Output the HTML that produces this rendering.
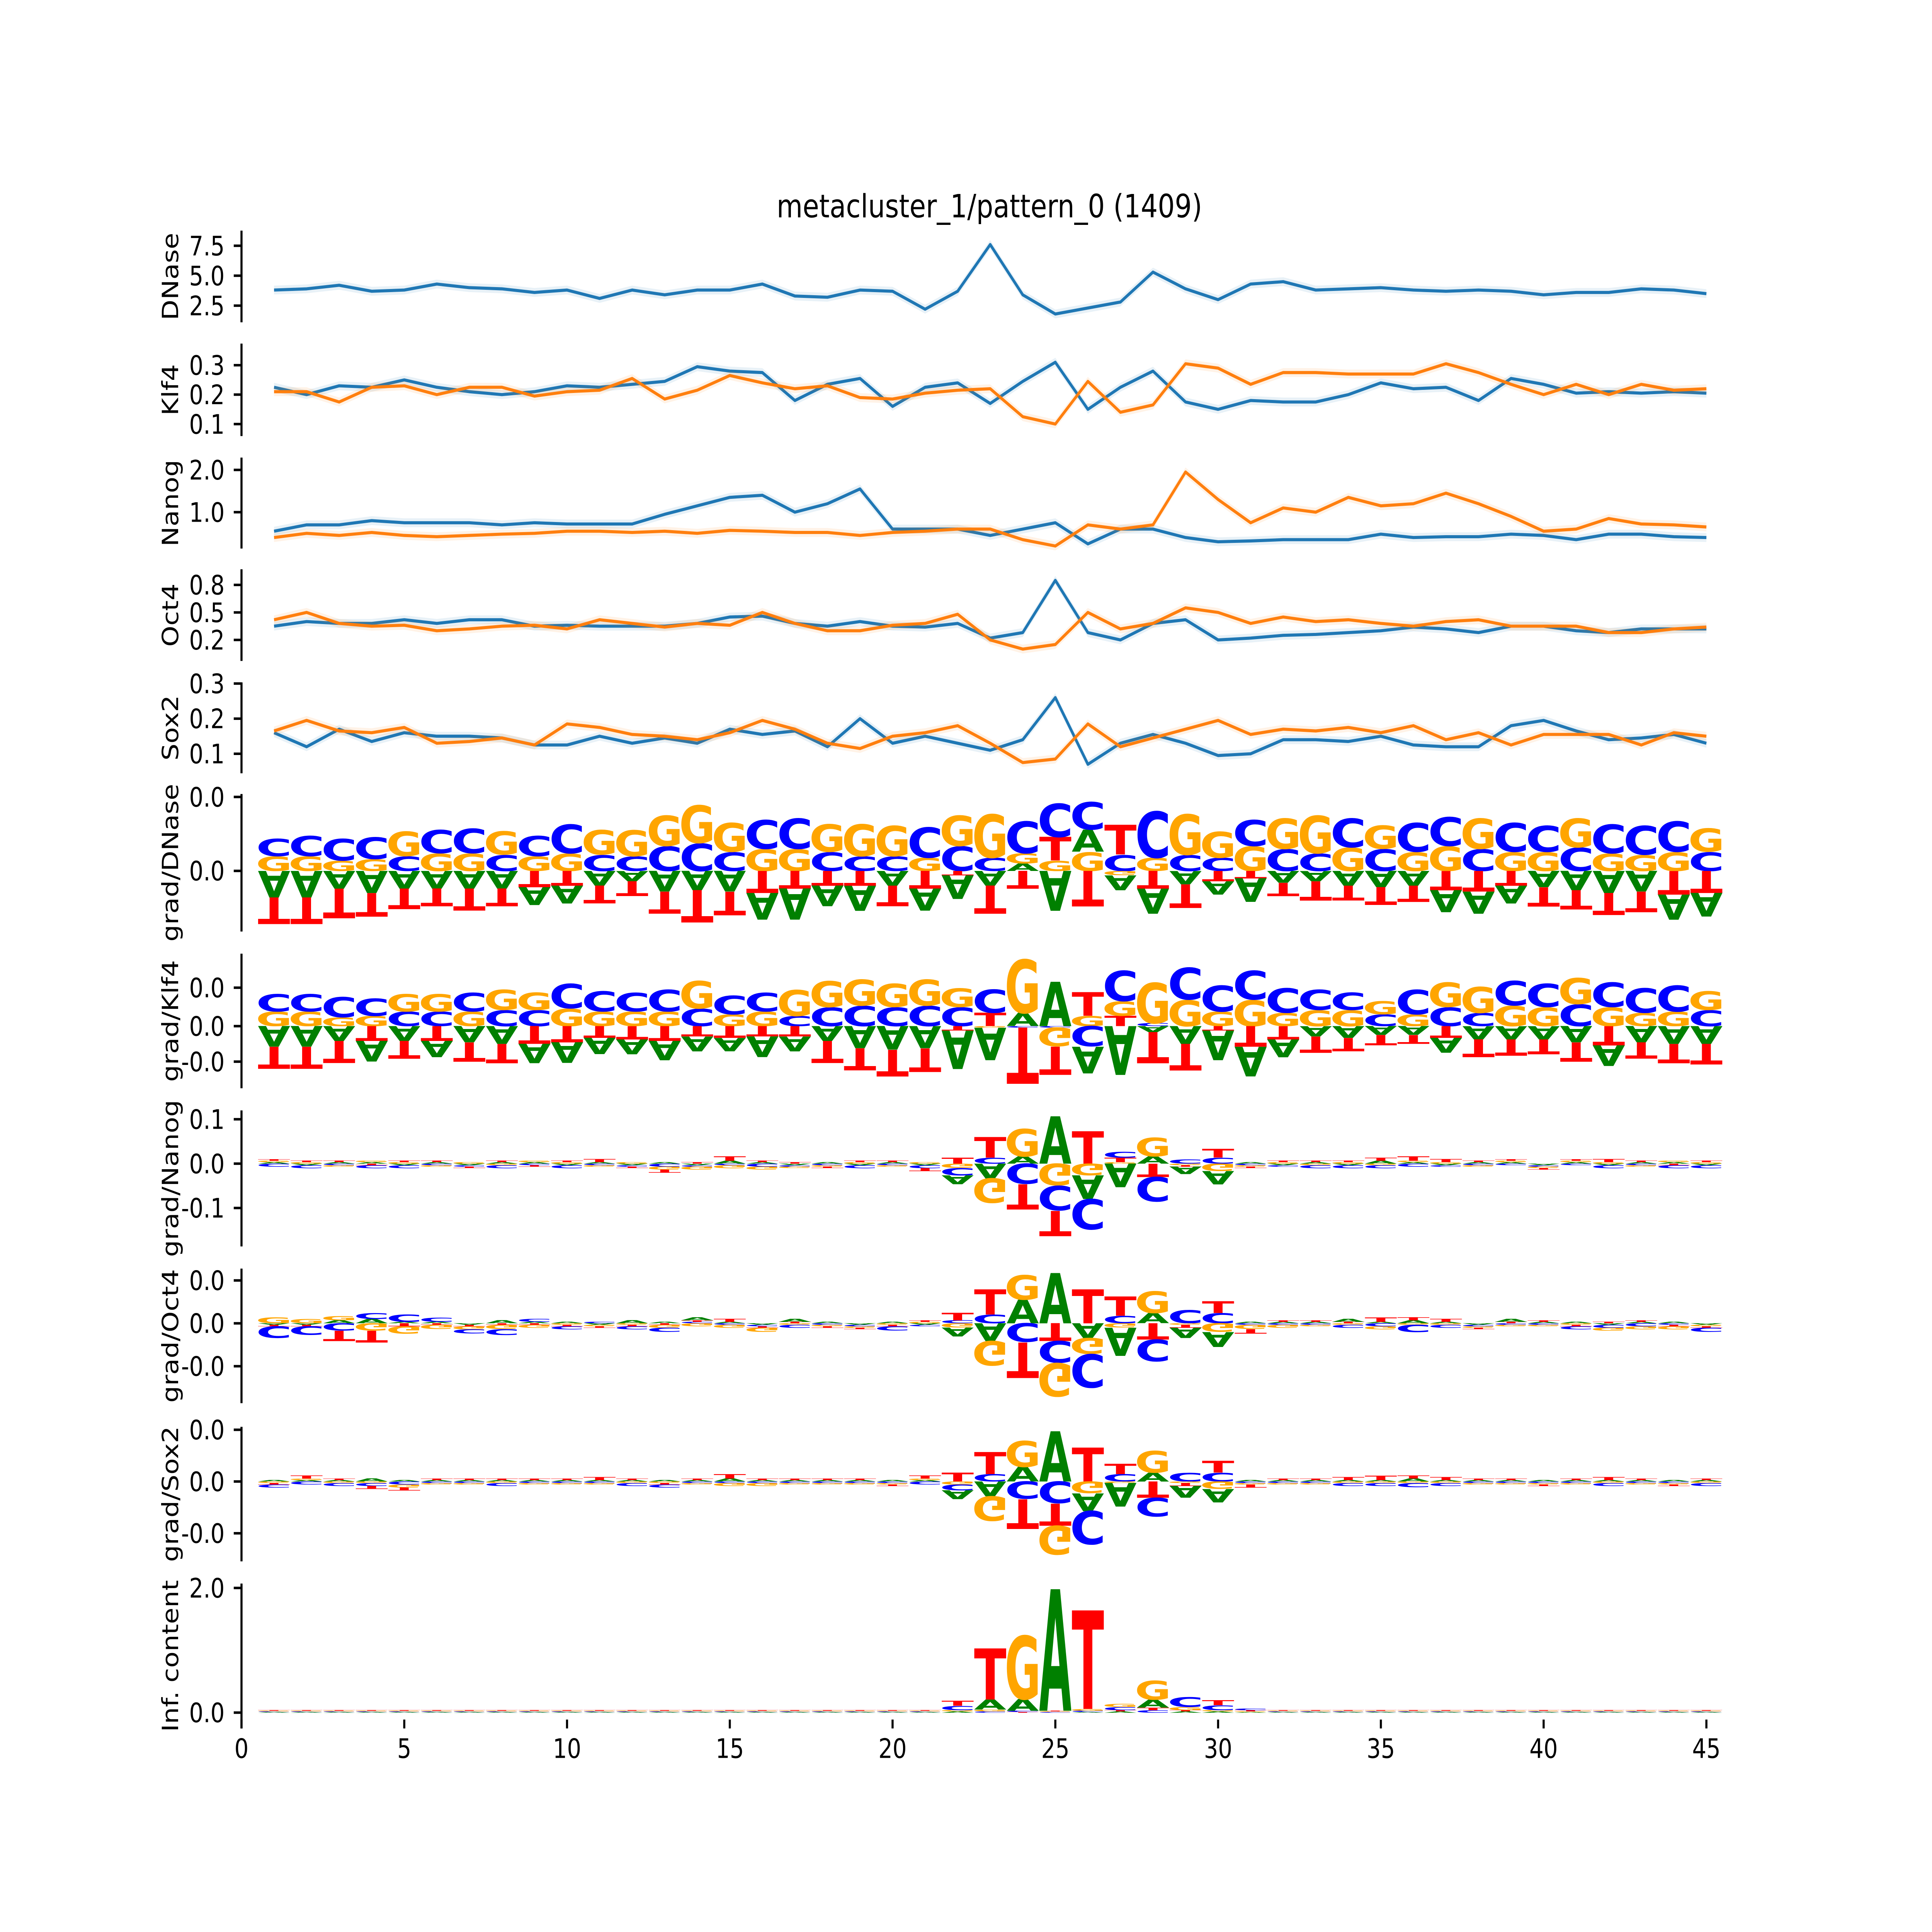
<!DOCTYPE html>
<html>
<head>
<meta charset="utf-8">
<style>
html,body{margin:0;padding:0;background:#fff;width:100%;height:100%;overflow:hidden;}
svg{display:block;width:100vw;height:100vh;}
text{font-family:"DejaVu Sans","Liberation Sans",sans-serif;}
</style>
</head>
<body>
<svg xmlns="http://www.w3.org/2000/svg" viewBox="0 0 1568 1306.67" preserveAspectRatio="none">
<rect x="0" y="0" width="1568" height="1306.67" fill="#fff"/>
<g id="chart">
<text x="803" y="147" font-size="21.7" text-anchor="middle" fill="#000">metacluster_1/pattern_0 (1409)</text>
</g>
</svg>
<script>
// ---------- line track data (positions 1..45) ----------
const dnaseBlue=[3.8,3.9,4.2,3.7,3.8,4.3,4.0,3.9,3.6,3.8,3.1,3.8,3.4,3.8,3.8,4.3,3.3,3.2,3.8,3.7,2.2,3.7,7.6,3.4,1.8,2.3,2.8,5.3,3.9,3.0,4.3,4.5,3.8,3.9,4.0,3.8,3.7,3.8,3.7,3.4,3.6,3.6,3.9,3.8,3.5];
const klf4Blue=[0.225,0.2,0.23,0.225,0.25,0.225,0.21,0.2,0.21,0.23,0.225,0.235,0.245,0.295,0.28,0.275,0.18,0.235,0.255,0.16,0.225,0.24,0.17,0.245,0.31,0.15,0.225,0.28,0.175,0.15,0.18,0.175,0.175,0.2,0.24,0.22,0.225,0.18,0.255,0.235,0.205,0.21,0.205,0.21,0.205];
const klf4Orange=[0.21,0.21,0.175,0.225,0.23,0.2,0.225,0.225,0.195,0.21,0.215,0.255,0.185,0.215,0.265,0.24,0.22,0.23,0.19,0.185,0.205,0.215,0.22,0.125,0.1,0.245,0.14,0.165,0.305,0.29,0.235,0.275,0.275,0.27,0.27,0.27,0.305,0.275,0.235,0.2,0.235,0.2,0.235,0.215,0.22];
const nanogBlue=[0.55,0.7,0.7,0.8,0.75,0.75,0.75,0.7,0.75,0.72,0.72,0.72,0.95,1.15,1.35,1.4,1.0,1.2,1.55,0.6,0.6,0.6,0.45,0.6,0.75,0.25,0.6,0.6,0.4,0.3,0.32,0.35,0.35,0.35,0.48,0.4,0.42,0.42,0.48,0.45,0.35,0.48,0.48,0.42,0.4];
const nanogOrange=[0.4,0.5,0.45,0.52,0.45,0.42,0.45,0.48,0.5,0.55,0.55,0.52,0.55,0.5,0.57,0.55,0.52,0.52,0.45,0.52,0.55,0.6,0.6,0.35,0.2,0.7,0.6,0.7,1.95,1.3,0.75,1.1,1.0,1.35,1.15,1.2,1.45,1.2,0.9,0.55,0.6,0.85,0.72,0.7,0.65];
const oct4Blue=[0.35,0.4,0.38,0.38,0.42,0.38,0.42,0.42,0.35,0.36,0.35,0.35,0.35,0.38,0.45,0.46,0.38,0.35,0.4,0.35,0.34,0.38,0.22,0.28,0.85,0.28,0.2,0.38,0.42,0.2,0.22,0.25,0.26,0.28,0.3,0.34,0.32,0.28,0.35,0.35,0.3,0.28,0.32,0.32,0.32];
const oct4Orange=[0.42,0.5,0.38,0.35,0.36,0.3,0.32,0.35,0.36,0.32,0.42,0.38,0.34,0.38,0.36,0.5,0.38,0.3,0.3,0.36,0.38,0.48,0.2,0.1,0.15,0.5,0.32,0.38,0.55,0.5,0.38,0.45,0.4,0.42,0.38,0.35,0.4,0.42,0.35,0.35,0.35,0.28,0.28,0.32,0.34];
const sox2Blue=[0.16,0.12,0.17,0.135,0.16,0.15,0.15,0.145,0.125,0.125,0.15,0.13,0.145,0.13,0.17,0.155,0.165,0.12,0.2,0.13,0.15,0.13,0.11,0.14,0.26,0.07,0.13,0.155,0.13,0.095,0.1,0.14,0.14,0.135,0.15,0.125,0.12,0.12,0.18,0.195,0.165,0.14,0.145,0.155,0.13];
const sox2Orange=[0.165,0.195,0.165,0.16,0.175,0.13,0.135,0.145,0.125,0.185,0.175,0.155,0.15,0.14,0.16,0.195,0.17,0.13,0.115,0.15,0.16,0.18,0.13,0.075,0.085,0.185,0.12,0.145,0.17,0.195,0.155,0.17,0.165,0.175,0.16,0.18,0.14,0.16,0.125,0.155,0.155,0.155,0.125,0.16,0.15];

// ---------- logo data (signed heights per letter, positions 1..45) ----------
const gDnaseA=[-18,-18,-12,-15,-12,-12,-12,-12,-12,-12,-10,-7,-14,-13,-14,-18,-21,-14,-17,-10,-15,-16,-10,5,-27,15,-10,-17,-9,-9,-16,-8,-7,-10,-11,-10,-15,-15,-12,-11,-13,-15,-14,-17,-16];
const gDnaseC=[12,14,15,15,10,16,17,11,14,20,11,10,17,19,13,20,21,13,10,10,21,17,9,22,23,19,11,32,11,9,18,15,12,20,15,20,20,15,20,18,16,20,20,21,13];
const gDnaseG=[10,10,7,8,17,12,12,16,10,12,17,18,21,26,20,15,15,19,22,21,9,21,30,7,7,13,-3,9,28,18,17,21,26,16,16,13,17,21,13,13,20,12,11,13,16];
const gDnaseT=[-18,-18,-20,-16,-14,-12,-15,-12,-11,-10,-12,-10,-15,-22,-16,-15,-12,-10,-10,-14,-12,-3,-19,-12,16,-24,20,-12,-16,-7,-5,-9,-13,-10,-12,-11,-13,-14,-10,-13,-13,-15,-14,-16,-15];

const gKlf4A=[-14,-14,-10,-14,-10,-11,-11,-12,-13,-14,-11,-10,-13,-10,-9,-14,-10,-10,-15,-16,-15,-26,-22,9,30,-18,-33,-4,-12,-20,-20,-12,-7,-8,-6,-6,-10,-9,-9,-9,-11,-14,-11,-12,-12];
const gKlf4C=[12,12,14,12,10,10,13,11,11,17,14,13,15,12,13,13,7,13,14,13,14,13,16,-1,-1,-14,21,2,22,18,20,17,14,12,8,17,13,9,17,16,15,17,17,18,11];
const gKlf4G=[10,10,6,7,12,12,10,14,12,12,10,10,10,19,8,10,18,18,18,16,18,13,-1,37,-13,7,10,28,18,10,18,9,11,11,9,8,17,18,14,13,18,13,9,10,13];
const gKlf4T=[-15,-15,-15,-10,-12,-10,-13,-13,-12,-11,-8,-9,-10,-7,-8,-7,-7,-15,-15,-18,-16,-3,9,-38,-19,16,7,-21,-18,-3,-14,-9,-11,-9,-7,-6,-8,-12,-11,-10,-13,-13,-11,-13,-14];

const gNanogA=[1,-1,1,1,-1,1,-1,1,1,-1,1,-1,1,-1,2,1,-1,1,-1,1,-1,-6,-10,5,32,-16,-16,5,-5,-9,1,-1,1,-1,2,1,-1,1,1,-1,1,-1,1,1,-1];
const gNanogC=[-2,-2,-1,-2,-2,-1,-1,-2,-1,-2,-1,-1,-2,-1,-1,-2,-1,-1,-2,-1,-2,-5,4,-14,-17,-21,4,-17,3,4,-1,-1,-2,-2,-2,-2,-1,-1,-1,-1,-1,-2,-1,-2,-2];
const gNanogG=[1,1,-1,1,1,-1,1,-1,1,1,-1,1,-2,-2,-2,-2,-1,-1,1,-1,1,-3,-17,19,-15,-8,1,13,-1,-5,-1,1,-1,1,-1,1,1,-1,1,-1,1,1,-1,1,1];
const gNanogT=[1,1,1,-1,1,1,-1,1,-1,1,2,-1,-2,1,3,1,1,-1,1,1,-2,4,14,-17,-17,22,3,-9,-1,6,-1,1,1,1,2,3,2,1,1,-1,1,2,1,-1,1];

const gOct4A=[-1,-1,2,3,1,1,-1,2,1,1,-1,2,1,2,1,-1,2,1,-1,1,-1,-6,-12,16,34,-10,-19,7,-7,-10,1,1,1,2,1,2,1,-1,2,1,1,-1,1,1,-1];
const gOct4C=[-8,-6,-5,4,5,3,-3,-4,2,-2,1,-2,-3,1,-1,-1,-2,-1,-1,-3,-1,2,6,-13,-15,-23,5,-15,9,7,-1,-1,-1,-2,-2,-5,-2,-1,-1,-1,-2,-2,-2,-1,-3];
const gOct4G=[4,3,3,-5,-5,-3,-2,-3,-2,-1,-1,-1,-2,-2,-2,-3,-1,-1,-1,-1,1,-3,-17,17,-23,-11,-3,15,-1,-6,-3,-2,-1,-1,-2,-1,-1,-1,-1,-1,-1,-2,-2,-2,-1];
const gOct4T=[-1,-1,-7,-8,-2,-1,-1,-1,-1,-1,-1,-1,-1,1,2,-1,1,-1,-1,-1,1,5,17,-24,-12,23,13,-11,-2,8,-3,1,1,1,3,2,2,-1,1,1,-1,1,1,-1,-1];

const gSox2A=[1,1,1,2,1,1,1,1,1,1,1,1,1,1,2,1,1,1,1,1,1,-6,-10,10,34,-12,-16,6,-8,-9,1,1,1,1,1,2,1,1,1,1,1,1,1,1,1];
const gSox2C=[-2,-2,-2,-2,-2,-1,-1,-2,-1,-1,-1,-2,-2,-1,-1,-1,-1,-1,-1,-1,-2,-4,5,-12,-15,-23,5,-13,6,6,-1,-1,-1,-2,-2,-3,-2,-1,-1,-1,-1,-2,-1,-1,-2];
const gSox2G=[-1,1,-1,-1,-2,-1,-1,-1,-1,-1,-1,-1,-1,-1,-2,-2,-1,-1,-1,-1,1,-2,-17,18,-20,-8,-1,15,-1,-5,-1,-1,-1,-1,-1,-1,-1,-1,-1,-1,-1,-1,-1,-1,-1];
const gSox2T=[-1,2,1,-2,-2,1,1,1,1,1,2,1,-1,1,3,1,1,1,1,-1,2,6,15,-20,-15,23,7,-11,-2,8,-2,1,1,2,3,2,2,1,1,-1,1,2,1,-1,1];

const icA=[0.01,0.01,0.01,0.01,0.01,0.01,0.01,0.01,0.01,0.01,0.01,0.01,0.01,0.01,0.01,0.01,0.01,0.01,0.01,0.01,0.01,0.02,0.16,0.19,1.95,0.01,0.02,0.13,0.02,0.02,0.01,0.01,0.01,0.01,0.01,0.01,0.01,0.01,0.01,0.01,0.01,0.01,0.01,0.01,0.01];
const icC=[0.01,0.01,0.01,0.01,0.01,0.01,0.01,0.01,0.01,0.01,0.01,0.01,0.01,0.01,0.01,0.01,0.01,0.01,0.01,0.01,0.01,0.07,0.02,0.02,0.01,0.02,0.05,0.04,0.16,0.08,0.03,0.01,0.01,0.01,0.01,0.01,0.01,0.01,0.01,0.01,0.01,0.01,0.01,0.01,0.01];
const icG=[0.01,0.01,0.01,0.01,0.01,0.01,0.01,0.01,0.01,0.01,0.01,0.01,0.01,0.01,0.01,0.01,0.01,0.01,0.01,0.01,0.01,0.02,0.03,1.04,0.01,0.03,0.05,0.31,0.05,0.02,0.01,0.01,0.01,0.01,0.01,0.01,0.01,0.01,0.01,0.01,0.01,0.01,0.01,0.01,0.01];
const icT=[0.01,0.01,0.01,0.01,0.01,0.01,0.01,0.01,0.01,0.01,0.01,0.01,0.01,0.01,0.01,0.01,0.01,0.01,0.01,0.01,0.01,0.08,0.82,0.01,0.01,1.58,0.02,0.04,0.02,0.08,0.02,0.01,0.01,0.01,0.01,0.01,0.01,0.01,0.01,0.01,0.01,0.01,0.01,0.01,0.01];

// ---------- tick data ----------
const xTickValues=[0,5,10,15,20,25,30,35,40,45];
const dnaseTicks=[2.5,5.0,7.5], dnaseTickLabels=["2.5","5.0","7.5"];
const klf4Ticks=[0.1,0.2,0.3], klf4TickLabels=["0.1","0.2","0.3"];
const nanogTicks=[1.0,2.0], nanogTickLabels=["1.0","2.0"];
const oct4Ticks=[0.2,0.5,0.8], oct4TickLabels=["0.2","0.5","0.8"];
const sox2Ticks=[0.1,0.2,0.3], sox2TickLabels=["0.1","0.2","0.3"];
const gDnaseTicks=[0,50], gDnaseTickLabels=["0.0","0.0"];
const gKlf4Ticks=[26,0,-24], gKlf4TickLabels=["0.0","0.0","-0.0"];
const gNanogTicks=[30,0,-30], gNanogTickLabels=["0.1","0.0","-0.1"];
const gOct4Ticks=[29,0,-29], gOct4TickLabels=["0.0","0.0","-0.0"];
const gSox2Ticks=[35,0,-35], gSox2TickLabels=["0.0","0.0","-0.0"];
const icTicks=[0,2], icTickLabels=["0.0","2.0"];

const NS='http://www.w3.org/2000/svg';
const svg=document.getElementById('chart');
const X0=196, XU=26.42;
function xs(p){return X0+p*XU;}
function lin(v0,y0,v1,y1){return function(v){return y0+(v-v0)*(y1-y0)/(v1-v0);};}
function px(zero){return function(v){return zero-v;};}
function el(tag,parent){const e=document.createElementNS(NS,tag);parent.appendChild(e);return e;}

const COLORS={A:'#008000',C:'#0000ff',G:'#ffa500',T:'#ff0000'};
const INK={A:77,C:66,G:73,T:68};
const CAP={A:72.9,C:75,G:75,T:72.9};

function drawAxis(g,top,bot,yfn,ticks,labels,title,key){
  const sp=el('line',g);
  
  
  sp.setAttribute('x1',X0);sp.setAttribute('x2',X0);sp.setAttribute('y1',top);sp.setAttribute('y2',bot);
  sp.setAttribute('stroke','#000');sp.setAttribute('stroke-width','1.7');
  ticks.forEach(function(t,i){
    const y=yfn(t);
    const tk=el('line',g);
    
    
    tk.setAttribute('x1',X0-6.3);tk.setAttribute('x2',X0);tk.setAttribute('y1',y);tk.setAttribute('y2',y);
    tk.setAttribute('stroke','#000');tk.setAttribute('stroke-width','1.7');
    const tl=el('text',g);
    
    
    tl.setAttribute('x',182.3);tl.setAttribute('y',y+6.5);
    tl.setAttribute('font-size','18.1');tl.setAttribute('text-anchor','end');
    tl.textContent=labels[i];
  });
  const yl=el('text',g);
  
  
  const cy=(top+bot)/2;
  yl.setAttribute('transform','translate(144.5,'+cy+') rotate(-90)');
  yl.setAttribute('font-size','18.1');yl.setAttribute('text-anchor','middle');
  yl.textContent=title;
}

function drawLine(g,vals,yfn,color,key){
  const band=el('polygon',g);
  
  
  let up=[],dn=[];
  vals.forEach(function(v,i){up.push(xs(i+1)+','+(yfn(v)-3));dn.unshift(xs(i+1)+','+(yfn(v)+3));});
  band.setAttribute('points',up.concat(dn).join(' '));
  band.setAttribute('fill',color);band.setAttribute('fill-opacity','0.1');
  const ln=el('polyline',g);
  
  
  ln.setAttribute('points',vals.map(function(v,i){return xs(i+1)+','+yfn(v);}).join(' '));
  ln.setAttribute('fill','none');ln.setAttribute('stroke',color);ln.setAttribute('stroke-width','2.1');
  ln.setAttribute('stroke-linejoin','round');
}

function drawLetter(g,L,xc,yStart,h,neg,key){
  if(h<=0.05) return;
  const W=XU*0.99;
  const sx=W/INK[L], sy=h/CAP[L];
  const t=el('text',g);
  
  
  t.setAttribute('x',0);t.setAttribute('y',0);
  t.setAttribute('font-size','100');t.setAttribute('font-weight','bold');
  t.setAttribute('text-anchor','middle');t.setAttribute('fill',COLORS[L]);
  if(neg){
    t.setAttribute('transform','translate('+xc+','+yStart+') scale('+sx+','+(-sy)+')');
  }else{
    t.setAttribute('transform','translate('+xc+','+yStart+') scale('+sx+','+sy+')');
  }
  t.textContent=L;
}

function drawLogo(g,yfn,A,C,G,T,key){
  for(let i=0;i<A.length;i++){
    const items=[['A',A[i]],['C',C[i]],['G',G[i]],['T',T[i]]];
    const pos=items.filter(function(d){return d[1]>0;}).sort(function(a,b){return a[1]-b[1];});
    const neg=items.filter(function(d){return d[1]<0;}).sort(function(a,b){return b[1]-a[1];});
    const xc=xs(i+1);
    let cum=0;
    pos.forEach(function(d){
      const yb=yfn(cum), yt=yfn(cum+d[1]);
      drawLetter(g,d[0],xc,yb,yb-yt,false,key);
      cum+=d[1];
    });
    cum=0;
    neg.forEach(function(d){
      const ytop=yfn(cum), ybot=yfn(cum+d[1]);
      drawLetter(g,d[0],xc,ytop,ybot-ytop,true,key);
      cum+=d[1];
    });
  }
}

function panel(key){
  const g=el('g',svg);
  
  
  return g;
}

let g;
const yDnase=lin(2.5,206.7,7.5,166.2);
g=panel('dnase');
drawAxis(g,156,218,yDnase,dnaseTicks,dnaseTickLabels,'DNase','dnase');
drawLine(g,dnaseBlue,yDnase,'#1f77b4','dnase-blue');

const yKlf4=lin(0.1,286.8,0.3,247);
g=panel('klf4');
drawAxis(g,232.4,294.9,yKlf4,klf4Ticks,klf4TickLabels,'Klf4','klf4');
drawLine(g,klf4Blue,yKlf4,'#1f77b4','klf4-blue');
drawLine(g,klf4Orange,yKlf4,'#ff7f0e','klf4-orange');

const yNanog=lin(1,346.4,2,317.8);
g=panel('nanog');
drawAxis(g,309.5,371,yNanog,nanogTicks,nanogTickLabels,'Nanog','nanog');
drawLine(g,nanogBlue,yNanog,'#1f77b4','nanog-blue');
drawLine(g,nanogOrange,yNanog,'#ff7f0e','nanog-orange');

const yOct4=lin(0.2,432.8,0.8,395.6);
g=panel('oct4');
drawAxis(g,385,447,yOct4,oct4Ticks,oct4TickLabels,'Oct4','oct4');
drawLine(g,oct4Blue,yOct4,'#1f77b4','oct4-blue');
drawLine(g,oct4Orange,yOct4,'#ff7f0e','oct4-orange');

const ySox2=lin(0.1,509.8,0.3,462.3);
g=panel('sox2');
drawAxis(g,461.5,523,ySox2,sox2Ticks,sox2TickLabels,'Sox2','sox2');
drawLine(g,sox2Blue,ySox2,'#1f77b4','sox2-blue');
drawLine(g,sox2Orange,ySox2,'#ff7f0e','sox2-orange');

const ygD=px(589);
g=panel('grad-dnase');
drawAxis(g,537,630,ygD,gDnaseTicks,gDnaseTickLabels,'grad/DNase','grad-dnase');
drawLogo(g,ygD,gDnaseA,gDnaseC,gDnaseG,gDnaseT,'grad-dnase');

const ygK=px(694);
g=panel('grad-klf4');
drawAxis(g,645,736,ygK,gKlf4Ticks,gKlf4TickLabels,'grad/Klf4','grad-klf4');
drawLogo(g,ygK,gKlf4A,gKlf4C,gKlf4G,gKlf4T,'grad-klf4');

const ygN=px(787);
g=panel('grad-nanog');
drawAxis(g,751,843,ygN,gNanogTicks,gNanogTickLabels,'grad/Nanog','grad-nanog');
drawLogo(g,ygN,gNanogA,gNanogC,gNanogG,gNanogT,'grad-nanog');

const ygO=px(895);
g=panel('grad-oct4');
drawAxis(g,858,949,ygO,gOct4Ticks,gOct4TickLabels,'grad/Oct4','grad-oct4');
drawLogo(g,ygO,gOct4A,gOct4C,gOct4G,gOct4T,'grad-oct4');

const ygS=px(1002);
g=panel('grad-sox2');
drawAxis(g,965,1056,ygS,gSox2Ticks,gSox2TickLabels,'grad/Sox2','grad-sox2');
drawLogo(g,ygS,gSox2A,gSox2C,gSox2G,gSox2T,'grad-sox2');

const yIC=lin(0,1158.3,2,1074);
g=panel('inf-content');
drawAxis(g,1071,1169,yIC,icTicks,icTickLabels,'Inf. content','inf-content');
drawLogo(g,yIC,icA,icC,icG,icT,'inf-content');

const xg=panel('x-axis');
xTickValues.forEach(function(v){
  const x=xs(v);
  const tk=el('line',xg);
  
  
  tk.setAttribute('x1',x);tk.setAttribute('x2',x);tk.setAttribute('y1',1163);tk.setAttribute('y2',1169);
  tk.setAttribute('stroke','#000');tk.setAttribute('stroke-width','1.7');
  const tl=el('text',xg);
  
  
  tl.setAttribute('x',x);tl.setAttribute('y',1189);
  tl.setAttribute('font-size','18.1');tl.setAttribute('text-anchor','middle');
  tl.textContent=String(v);
});
</script>
</body>
</html>
